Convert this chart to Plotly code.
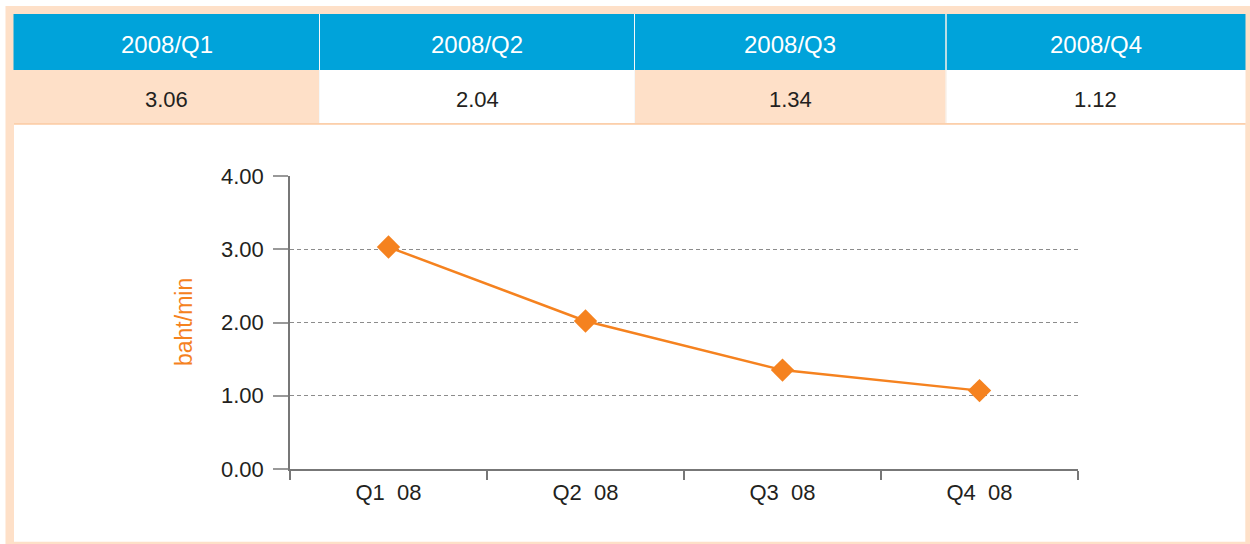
import plotly.graph_objects as go

# ---- data ----
periods = ["2008/Q1", "2008/Q2", "2008/Q3", "2008/Q4"]
table_values = ["3.06", "2.04", "1.34", "1.12"]
categories = ["Q1  08", "Q2  08", "Q3  08", "Q4  08"]
rates = [3.03, 2.02, 1.35, 1.07]
y_ticks = [0, 1, 2, 3, 4]
y_title = "baht/min"

# ---- style ----
W, H = 1250, 544
PEACH = "#FEE0C8"
PEACH_LINE = "#FBCFAB"
BLUE = "#00A3DA"
ORANGE = "#F5821F"
TEXT = "#231F20"
FONT = "Liberation Sans, Arial, sans-serif"

def X(px):
    return px / W

def Y(py):
    return 1 - py / H

col_edges = [13.5, 319.5, 634.5, 946, 1245.5]
header_top, header_bot, value_bot = 14, 70, 123

shapes = []
shapes.append(dict(type="rect", xref="paper", yref="paper", x0=X(5.5), x1=X(1250), y0=Y(544), y1=Y(6),
                   fillcolor=PEACH, line=dict(width=0), layer="below"))
shapes.append(dict(type="rect", xref="paper", yref="paper", x0=X(14), x1=X(1245.3), y0=Y(541.7), y1=Y(125),
                   fillcolor="white", line=dict(width=0), layer="below"))
shapes.append(dict(type="rect", xref="paper", yref="paper", x0=X(14), x1=X(1245.3), y0=Y(124.5), y1=Y(123),
                   fillcolor=PEACH_LINE, line=dict(width=0), layer="below"))

annotations = []
for i in range(len(periods)):
    x0, x1 = col_edges[i], col_edges[i + 1]
    gap_l = 0.5 if i > 0 else 0
    gap_r = 0.5 if i < len(periods) - 1 else 0
    shapes.append(dict(type="rect", xref="paper", yref="paper", x0=X(x0 + gap_l), x1=X(x1 - gap_r),
                       y0=Y(header_bot), y1=Y(header_top), fillcolor=BLUE, line=dict(width=0), layer="below"))
    shapes.append(dict(type="rect", xref="paper", yref="paper", x0=X(x0 + gap_l), x1=X(x1 - gap_r),
                       y0=Y(value_bot), y1=Y(header_bot),
                       fillcolor=PEACH if i % 2 == 0 else "white", line=dict(width=0), layer="below"))
    if i > 0:
        shapes.append(dict(type="rect", xref="paper", yref="paper", x0=X(x0 - 0.5), x1=X(x0 + 0.5),
                           y0=Y(value_bot), y1=Y(header_top), fillcolor="#F4F8FA", line=dict(width=0), layer="below"))
    cx = (x0 + x1) / 2
    annotations.append(dict(xref="paper", yref="paper", x=X(cx), y=Y(44), text=periods[i], showarrow=False,
                            font=dict(family=FONT, size=24, color="white"), xanchor="center", yanchor="middle"))
    annotations.append(dict(xref="paper", yref="paper", x=X(cx), y=Y(99), text=table_values[i], showarrow=False,
                            font=dict(family=FONT, size=22, color=TEXT), xanchor="center", yanchor="middle"))

annotations.append(dict(xref="paper", yref="paper", x=X(184), y=Y(322), text=y_title, showarrow=False,
                        textangle=-90, font=dict(family=FONT, size=23, color=ORANGE),
                        xanchor="center", yanchor="middle"))

fig = go.Figure()
fig.add_trace(go.Scatter(
    x=categories, y=rates, mode="lines+markers",
    line=dict(color=ORANGE, width=2.5),
    marker=dict(symbol="diamond", size=18, color=ORANGE),
    hoverinfo="x+y", showlegend=False,
))

fig.update_layout(
    width=W, height=H,
    margin=dict(l=0, r=0, t=0, b=0, pad=0, autoexpand=False),
    paper_bgcolor="white",
    plot_bgcolor="rgba(0,0,0,0)",
    shapes=shapes,
    annotations=annotations,
    font=dict(family=FONT, size=22, color=TEXT),
    xaxis=dict(
        domain=[X(290), X(1078)],
        type="category", range=[-0.5, 3.5], automargin=False,
        tickson="boundaries", ticks="outside", ticklen=9, tickwidth=1.5, tickcolor="#777777",
        showline=True, linecolor="#777777", linewidth=1.5,
        showgrid=False, zeroline=False,
        ticklabelstandoff=3,
        tickfont=dict(family=FONT, size=22, color=TEXT),
    ),
    yaxis=dict(
        domain=[Y(469), Y(176)],
        range=[0, 4], tickvals=y_ticks, tickformat=".2f", automargin=False,
        ticks="outside", ticklen=15, tickwidth=1.5, tickcolor="#999999",
        showline=True, linecolor="#777777", linewidth=1.5,
        showgrid=True, gridcolor="#8C8C8C", gridwidth=1, griddash="4px,3px",
        zeroline=False,
        ticklabelstandoff=5,
        tickfont=dict(family=FONT, size=22, color=TEXT),
    ),
)

fig.write_html("out.html", config={"displayModeBar": False},
               post_script="document.body.style.margin='0';document.body.style.overflow='hidden';")
